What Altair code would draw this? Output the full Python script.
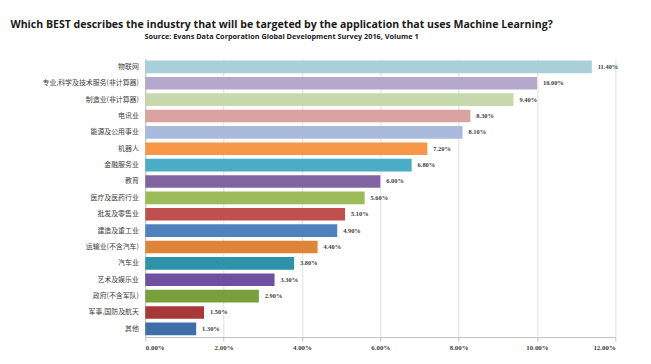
import altair as alt
import pandas as pd

categories = [
    "物联网",
    "专业,科学及技术服务(非计算器)",
    "制造业(非计算器)",
    "电讯业",
    "能源及公用事业",
    "机器人",
    "金融服务业",
    "教育",
    "医疗及医药行业",
    "批发及零售业",
    "建造及重工业",
    "运输业(不含汽车)",
    "汽车业",
    "艺术及娱乐业",
    "政府(不含军队)",
    "军事,国防及航天",
    "其他",
]
values = [11.40, 10.00, 9.40, 8.30, 8.10, 7.20, 6.80, 6.00, 5.60, 5.10, 4.90, 4.40, 3.80, 3.30, 2.90, 1.50, 1.30]
colors = [
    "#a9cfd9", "#b4a9cc", "#c6d8ac", "#d9a3a2", "#a9badd", "#f79646",
    "#4bacc6", "#8064a2", "#9bbb59", "#c0504d", "#4f81bd", "#e0843a",
    "#2e93a8", "#6f4f9f", "#77a03c", "#a73a38", "#3f6fa8",
]
x_ticks = [0, 2, 4, 6, 8, 10, 12]

df = pd.DataFrame({"cat": categories, "val": values})

y_enc = alt.Y(
    "cat:N", sort=categories, title=None,
    scale=alt.Scale(paddingInner=0.23, paddingOuter=0.12),
    axis=alt.Axis(labelFont="Noto Sans CJK SC", labelFontSize=7, labelColor="#404040",
                  ticks=False, labelPadding=7, domainColor="#bfbfbf", grid=False),
)
x_enc = alt.X(
    "val:Q", title=None,
    scale=alt.Scale(domain=[0, 12], nice=False),
    axis=alt.Axis(values=x_ticks, labelExpr="format(datum.value, '.2f') + '%'",
                  labelFont="Liberation Serif", labelFontSize=7, labelFontWeight="bold",
                  labelColor="#404040", gridColor="#dedede", domainColor="#bfbfbf",
                  tickColor="#bfbfbf", tickSize=4, labelPadding=3),
)

bars = alt.Chart(df).mark_bar().encode(
    x=x_enc,
    y=y_enc,
    color=alt.Color("cat:N", sort=categories, scale=alt.Scale(domain=categories, range=colors), legend=None),
)

labels = alt.Chart(df).transform_calculate(
    lab="format(datum.val, '.2f') + '%'"
).mark_text(align="left", dx=6, font="Liberation Serif", fontSize=6.5, fontWeight="bold", color="#404040").encode(
    x="val:Q",
    y=alt.Y("cat:N", sort=categories),
    text="lab:N",
)

chart = alt.layer(bars, labels).properties(
    width=476,
    height=282,
    title=alt.TitleParams(
        text="Which BEST describes the industry that will be targeted by the application that uses Machine Learning?",
        subtitle="Source: Evans Data Corporation  Global Development Survey 2016, Volume 1",
        font="Open Sans", fontSize=10.7, fontWeight="bold", color="#1a1a1a",
        subtitleFont="Open Sans", subtitleFontSize=7.4, subtitleFontWeight="bold", subtitleColor="#1a1a1a",
        anchor="middle", dx=-100, offset=17, subtitlePadding=3,
    ),
    autosize=alt.AutoSizeParams(type="none"),
    padding={"left": 139, "top": 49, "right": 28, "bottom": 25},
).configure_view(stroke=None).configure_axis(labelLimit=200)

chart.save("out.html", embed_options={"renderer": "svg", "actions": False})
